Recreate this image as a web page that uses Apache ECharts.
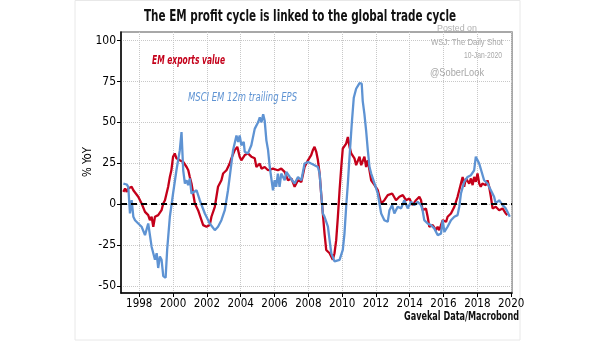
<!DOCTYPE html>
<html><head><meta charset="utf-8">
<script src="https://cdn.jsdelivr.net/npm/echarts@6/dist/echarts.min.js"></script>
<style>html,body{margin:0;padding:0;background:#fff}#c{width:605px;height:341px}</style>
</head><body><div id="c"></div>
<script>
const xTicks = [1998,2000,2002,2004,2006,2008,2010,2012,2014,2016,2018,2020];
const yTicks = [-50,-25,0,25,50,75,100];
const exportsValue = [
[1997.06,7.5],[1997.16,9.6],[1997.26,7.5],[1997.35,9.6],[1997.55,10.6],[1997.65,8.5],[1997.75,7.5],[1997.94,4.5],
[1998.14,0.4],[1998.34,-4.7],[1998.53,-6.7],[1998.63,-9.8],[1998.73,-7.7],[1998.83,-13.8],[1998.93,-7.7],
[1999.12,-6.7],[1999.32,-3.7],[1999.42,0.4],[1999.52,2.4],[1999.71,10.6],[1999.81,16.6],[1999.9,20.7],
[2000.0,29],[2000.1,31],[2000.2,28],[2000.3,29],[2000.4,26.8],[2000.5,28],[2000.6,25.8],[2000.7,26.8],[2000.8,22.7],[2000.9,20.7],
[2000.99,16.6],[2001.09,12.6],[2001.19,6.5],[2001.29,0.4],[2001.48,-3.7],[2001.68,-9.8],[2001.78,-12.8],[2001.98,-13.8],
[2002.17,-12.8],[2002.27,-7.7],[2002.47,-1.6],[2002.66,10.6],[2002.86,14.6],[2002.96,18.7],[2003.16,20.7],[2003.35,24.8],
[2003.45,28],[2003.65,33],[2003.8,35],[2003.94,29],[2004.04,26.8],[2004.24,30],[2004.43,31],[2004.63,29],[2004.83,28],
[2004.93,22.7],[2005.13,24.8],[2005.23,21.7],[2005.42,22.7],[2005.62,20.7],[2005.91,21.7],[2006.2,20.7],[2006.4,21.7],
[2006.6,19.7],[2006.8,14.6],[2007.0,15.7],[2007.19,10.6],[2007.39,14.6],[2007.59,13.6],[2007.78,22.7],[2007.98,26.8],
[2008.17,30],[2008.27,33],[2008.37,35],[2008.47,32],[2008.57,26.8],[2008.67,18.7],[2008.76,6.5],[2008.86,-5.7],[2008.96,-18],
[2009.06,-28],[2009.26,-30],[2009.45,-34],[2009.55,-30],[2009.65,-22],[2009.75,-7.7],[2009.85,8.5],[2009.95,22.7],
[2010.04,34],[2010.14,35],[2010.24,37],[2010.34,41],[2010.44,35],[2010.54,31],[2010.73,28],[2010.83,23.8],[2011.03,29],
[2011.13,23.8],[2011.32,29],[2011.42,22.7],[2011.52,26.8],[2011.72,14.6],[2011.92,11.6],[2012.11,8.5],[2012.31,0.4],
[2012.5,2.4],[2012.7,5.5],[2012.8,4.5],[2012.96,6.5],[2013.19,2.4],[2013.39,4.5],[2013.59,5.5],[2013.78,2.4],[2013.98,3.5],
[2014.17,-0.6],[2014.37,2.4],[2014.57,4.5],[2014.67,2.4],[2014.76,-3.7],[2014.96,-2.6],[2015.06,-7.7],[2015.16,-13.8],
[2015.36,-12.8],[2015.55,-15.9],[2015.65,-13.8],[2015.75,-15.9],[2015.95,-9.8],[2016.15,-10.8],[2016.24,-7.7],[2016.44,-5.7],
[2016.64,-1.6],[2016.83,4.5],[2017.03,12.6],[2017.13,16.6],[2017.22,10.6],[2017.32,15.7],[2017.52,12.6],[2017.62,15.7],
[2017.72,11.6],[2017.81,16.6],[2017.91,13.6],[2018.01,18.7],[2018.11,12.6],[2018.2,10.6],[2018.3,12.6],[2018.5,11.6],
[2018.6,14.6],[2018.7,10.6],[2018.8,4.5],[2018.9,-2.6],[2019.09,-1.6],[2019.29,-3.7],[2019.49,-2.6],[2019.68,-5.7],[2019.78,-6.7]
];
const trailingEps = [
[1997.06,12.6],[1997.26,12],[1997.35,10.6],[1997.45,-5.7],[1997.55,2.4],[1997.65,-7.7],[1997.75,-9.8],[1997.94,-11.8],
[1998.14,-13.8],[1998.34,-18.9],[1998.53,-11.8],[1998.73,-26],[1998.93,-34],[1999.03,-30],[1999.12,-39],[1999.22,-32],
[1999.32,-34],[1999.42,-44],[1999.56,-45],[1999.65,-28],[1999.81,-7.7],[2000.0,6.5],[2000.2,20.7],[2000.4,33],[2000.5,44],
[2000.6,20.7],[2000.7,12.6],[2000.8,14.6],[2000.89,11.6],[2000.99,15.7],[2001.09,6.5],[2001.39,8.5],[2001.58,2.4],
[2001.88,-5.7],[2002.17,-11.8],[2002.47,-15.9],[2002.66,-13.8],[2002.86,-9.8],[2003.06,-3.7],[2003.25,8.5],[2003.45,24.8],
[2003.55,33],[2003.75,42],[2003.85,38],[2003.94,42],[2004.04,36],[2004.18,38],[2004.24,32],[2004.43,31],[2004.63,36],
[2004.83,46],[2005.03,50],[2005.13,53],[2005.23,50],[2005.33,55],[2005.42,51],[2005.52,39],[2005.62,33],[2005.72,22.7],
[2005.91,8.5],[2006.01,14.6],[2006.1,10.6],[2006.2,18.7],[2006.3,10.6],[2006.4,18.7],[2006.6,14.6],[2006.7,19.7],
[2006.9,16.6],[2007.0,17.5],[2007.19,12.6],[2007.39,16.6],[2007.59,14.6],[2007.78,24.8],[2007.98,25.8],[2008.17,24.8],
[2008.37,23.8],[2008.57,22.7],[2008.67,18.7],[2008.76,6.5],[2008.86,-5.7],[2008.96,-7.7],[2009.16,-13.8],[2009.26,-22],
[2009.36,-30],[2009.55,-35],[2009.65,-36],[2009.85,-34],[2010.04,-28],[2010.14,-18],[2010.24,-1.6],[2010.34,12.6],
[2010.44,29],[2010.57,49],[2010.69,65],[2010.83,70.5],[2011.03,74],[2011.16,73.6],[2011.22,63],[2011.32,55],[2011.42,45],
[2011.52,33],[2011.62,22.7],[2011.72,18.7],[2011.92,12.6],[2012.11,6.5],[2012.31,-5.7],[2012.5,-9.8],[2012.7,-10.8],
[2012.8,-3.7],[2012.96,-0.6],[2013.09,-5.7],[2013.29,-1.6],[2013.49,-2.6],[2013.68,2.4],[2013.88,-2.6],[2014.08,1.4],
[2014.27,-0.6],[2014.47,1.4],[2014.67,-0.6],[2014.76,-3.7],[2014.86,-9.8],[2015.06,-11.8],[2015.26,-12.8],[2015.45,-14.8],
[2015.65,-18.9],[2015.85,-18],[2015.95,-9.8],[2016.05,-17],[2016.24,-13.8],[2016.44,-9.8],[2016.64,-7.7],[2016.83,-6.7],
[2016.93,-1.6],[2017.03,6.5],[2017.22,13.6],[2017.42,16.6],[2017.62,17.7],[2017.81,20.7],[2017.91,29],[2018.01,30],
[2018.11,24.8],[2018.2,23.8],[2018.4,14.6],[2018.6,12.6],[2018.8,8.5],[2018.99,4.5],[2019.09,0.4],[2019.29,2.4],
[2019.49,-0.6],[2019.68,-2.6],[2019.78,-4.7],[2019.92,-7.7]
];
const NARROW = "'DejaVu Sans Condensed','Liberation Sans Narrow',sans-serif";
const measureCtx = document.createElement('canvas').getContext('2d');
function fitText(text, font, x, y, width, fill, align, z){
  measureCtx.font = font;
  const sx = width / measureCtx.measureText(text).width;
  return {type:'text', x:x, y:y, scaleX:sx, z:z||5,
    style:{text:text, fill:fill, font:font, textAlign:align, textVerticalAlign:'middle'}};
}
const yName = fitText('% YoY','12px '+NARROW,88,162,30,'#000','center',5);
yName.rotation = Math.PI/2;
const chart = echarts.init(document.getElementById('c'), null, {renderer:'canvas'});
chart.setOption({
  animation:false,
  backgroundColor:'#fff',
  grid:{left:121,right:93,top:32,bottom:48,show:true,borderColor:'#8c8c8c',borderWidth:1.5,containLabel:false},
  xAxis:{type:'value',min:1996.92,max:2020.05,
    axisLine:{show:true,onZero:false,lineStyle:{color:'#000',width:1.5}},
    axisTick:{show:true,length:4,customValues:xTicks,lineStyle:{color:'#000'}},
    axisLabel:{customValues:xTicks,formatter:v=>String(v),color:'#000',fontFamily:NARROW,fontSize:11.5,margin:5},
    splitLine:{show:true,lineStyle:{color:'#c8c8c8',type:'dotted',width:1}}},
  yAxis:{type:'value',min:-54.3,max:105.2,
    axisLine:{show:true,onZero:false,lineStyle:{color:'#000',width:1.5}},
    axisTick:{show:true,length:4,customValues:yTicks,lineStyle:{color:'#000'}},
    axisLabel:{customValues:yTicks,color:'#000',fontFamily:NARROW,fontSize:12,margin:5},
    splitLine:{show:true,lineStyle:{color:'#c8c8c8',type:'dotted',width:1}}},
  series:[
    {name:'EM exports value',type:'line',data:exportsValue,showSymbol:false,symbol:'none',
     lineStyle:{color:'#c4001a',width:2.3},z:3,
     markLine:{silent:true,symbol:'none',label:{show:false},data:[{yAxis:0}],
       lineStyle:{color:'#000',type:[6,4],width:2}}},
    {name:'MSCI EM 12m trailing EPS',type:'line',data:trailingEps,showSymbol:false,symbol:'none',
     lineStyle:{color:'#5e93d3',width:2.3},z:4}
  ],
  graphic:[
    {type:'rect',shape:{x:75,y:0.5,width:445,height:339.5},style:{fill:'none',stroke:'#e8e8e8',lineWidth:1},z:-10},
    fitText('The EM profit cycle is linked to the global trade cycle','bold 16px '+NARROW,300,17,312,'#111','center',5),
    fitText('Posted on','9px "Liberation Sans",sans-serif',457,29,40,'#b0b0b0','center',1),
    fitText('WSJ: The Daily Shot','9px "Liberation Sans",sans-serif',503,43,72,'#a8a8a8','right',1),
    fitText('10-Jan-2020','9px "Liberation Sans",sans-serif',502,56,38,'#a8a8a8','right',1),
    fitText('@SoberLook','11px "Liberation Sans",sans-serif',457,73,54,'#a8a8a8','center',1),
    fitText('EM exports value','italic bold 12px '+NARROW,152,61,73,'#c4001a','left',5),
    fitText('MSCI EM 12m trailing EPS','italic 12px '+NARROW,188,98,109,'#5e93d3','left',5),
    fitText('Gavekal Data/Macrobond','bold 12px '+NARROW,519,317,115,'#111','right',5),
    yName
  ]
});
</script></body></html>
